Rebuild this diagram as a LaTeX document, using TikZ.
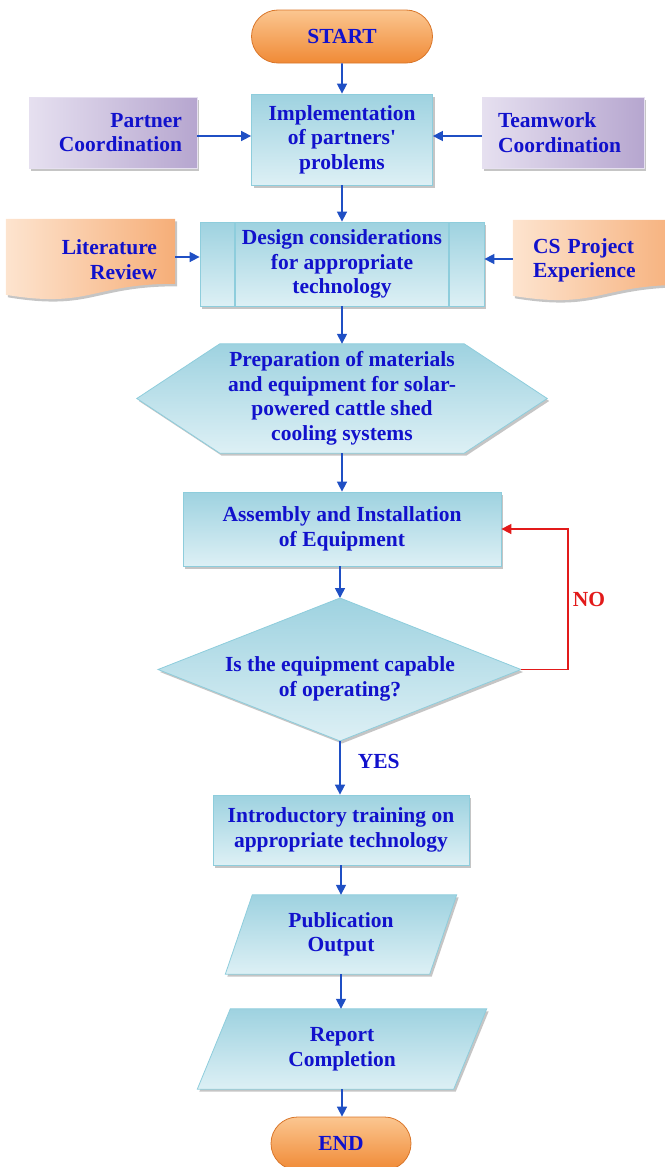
\documentclass[tikz,border=0pt]{standalone}
\usepackage{fontspec}
\setmainfont{Liberation Serif}
\usetikzlibrary{
  arrows.meta,
  backgrounds,
  calc,
  positioning,
  shapes.misc,
  shadows
}
\definecolor{LabelBlue}{HTML}{1111CC}
\definecolor{ArrowBlue}{HTML}{1F4FC4}
\definecolor{AlarmRed}{HTML}{E21A1A}
\definecolor{CyanDeep}{HTML}{9ED2E0}
\definecolor{CyanLight}{HTML}{DDF0F5}
\definecolor{CyanEdge}{HTML}{8ECDDC}
\definecolor{OrangeLight}{HTML}{FBC690}
\definecolor{OrangeDeep}{HTML}{F08A36}
\definecolor{OrangeEdge}{HTML}{D9762A}
\definecolor{PurpleLight}{HTML}{E6E0F0}
\definecolor{PurpleDeep}{HTML}{B6A6CF}
\definecolor{PeachLight}{HTML}{FDE4CF}
\definecolor{PeachDeep}{HTML}{F6AE78}
\definecolor{ShadowGray}{HTML}{8C8C8C}
\newcommand{\flowfont}{\bfseries\fontsize{21.5}{24.5}\selectfont}
\tikzset{
  % Global typography and shared shadow.
  every node/.style={font=\flowfont, text=LabelBlue},
  soft shadow/.style={
    drop shadow={shadow xshift=2pt, shadow yshift=-2.5pt, fill=ShadowGray}
  },
  terminal/.style={
    rounded rectangle,
    draw=OrangeEdge,
    line width=0.8pt,
    top color=OrangeLight,
    bottom color=OrangeDeep,
    minimum height=53pt,
    inner sep=0pt
  },
  flow box/.style={
    rectangle,
    draw=CyanEdge,
    line width=0.8pt,
    top color=CyanDeep,
    bottom color=CyanLight,
    soft shadow,
    align=center,
    inner sep=0pt
  },
  side box/.style={
    rectangle,
    draw=PurpleLight,
    line width=0.8pt,
    left color=PurpleLight,
    right color=PurpleDeep,
    soft shadow,
    minimum height=71pt,
    inner ysep=0pt
  },
  % Text holders for outlines drawn on the background layer.
  shape text/.style={
    rectangle,
    align=center,
    inner sep=0pt
  },
  doc text/.style={
    rectangle,
    minimum width=151pt,
    minimum height=81pt,
    inner ysep=0pt
  },
  shape fill/.style={
    draw=CyanEdge,
    line width=0.8pt,
    top color=CyanDeep,
    bottom color=CyanLight,
    soft shadow
  },
  doc fill/.style={
    left color=PeachLight,
    right color=PeachDeep,
    soft shadow
  },
  flow/.style={
    -{Triangle[length=10pt,width=10pt]},
    draw=ArrowBlue,
    line width=1.6pt
  },
  no flow/.style={
    flow,
    draw=AlarmRed
  },
  answer label/.style={
    inner sep=0pt
  }
}

\begin{document}
\begin{tikzpicture}[x=1pt, y=-1pt]

\useasboundingbox (0,0) rectangle (664,1167);

% ---------------------------------------------------------------------------
% Start and the two coordination inputs
% ---------------------------------------------------------------------------
\node[terminal, minimum width=181pt] (start) at (342,36.5) {START};

\node[flow box, minimum width=181pt, minimum height=91pt] (implement) at (342,139.5)
  {Implementation\\of partners\textquotesingle\\problems};

\node[side box, minimum width=168pt, text width=138pt, inner xsep=15pt, align=right]
  (partnerCoord) at (113,132.5) {Partner\\Coordination};

\node[side box, minimum width=162pt, text width=130pt, inner xsep=16pt, align=left]
  (teamCoord) at (563,132.5) {Teamwork\\Coordination};

\draw[flow] (start) -- (implement);
\draw[flow] ([yshift=-3.5pt]partnerCoord.east) -- ([yshift=-3.5pt]partnerCoord.east -| implement.west);
\draw[flow] ([yshift=-3.5pt]teamCoord.west) -- ([yshift=-3.5pt]teamCoord.west -| implement.east);

% ---------------------------------------------------------------------------
% Design considerations with its two document inputs
% ---------------------------------------------------------------------------
\node[flow box, minimum width=284pt, minimum height=84pt,
  path picture={
    \draw[CyanEdge, line width=1.2pt]
      ([xshift=35pt]path picture bounding box.north west) --
      ([xshift=35pt]path picture bounding box.south west);
    \draw[CyanEdge, line width=1.2pt]
      ([xshift=-35pt]path picture bounding box.north east) --
      ([xshift=-35pt]path picture bounding box.south east);
  }] (design) at (342,264)
  {Design considerations\\for appropriate\\technology};

\node[doc text, text width=133pt, inner xsep=18pt, align=right]
  (litReview) at (90.5,259.5) {Literature\\Review};

\node[doc text, text width=131pt, inner xsep=20pt, align=left]
  (csProject) at (598.5,260.5) {CS Project\\Experience};

\begin{scope}[on background layer]
  \foreach \doc in {litReview,csProject}{
    \path[doc fill] (\doc.north west) -- (\doc.north east) --
      ($(\doc.north east)+(0,65)$)
      .. controls ($(\doc.north)+(0,65)$) and ($(\doc.north)+(0,90)$) ..
      ($(\doc.north west)+(0,76)$) -- cycle;
  }
\end{scope}

\draw[flow] (implement) -- (design);
\draw[flow] ([yshift=2.5pt]litReview.east) -- ([yshift=2.5pt]litReview.east -| design.west);
\draw[flow] ([yshift=1.5pt]csProject.west) -- ([yshift=1.5pt]csProject.west -| design.east);

% ---------------------------------------------------------------------------
% Preparation, assembly and the capability check
% ---------------------------------------------------------------------------
\node[shape text, minimum width=410pt, minimum height=109pt] (prep) at (342,398.5)
  {Preparation of materials\\and equipment for solar-\\powered cattle shed\\cooling systems};

\node[flow box, minimum width=318pt, minimum height=74pt] (assembly) at (342,529)
  {Assembly and Installation\\of Equipment};

\node[shape text] (decision) at (340,679)
  {Is the equipment capable\\of operating?};

\coordinate (decTop) at (340,598);
\coordinate (decRight) at (521,669.5);
\coordinate (decBottom) at (340,741);
\coordinate (decLeft) at (158,669.5);

\begin{scope}[on background layer]
  \path[shape fill] (prep.west) -- ([xshift=83pt]prep.north west) --
    ([xshift=-83pt]prep.north east) -- (prep.east) --
    ([xshift=-83pt]prep.south east) -- ([xshift=83pt]prep.south west) -- cycle;
  \path[shape fill] (decTop) -- (decRight) -- (decBottom) -- (decLeft) -- cycle;
\end{scope}

\draw[flow] (design) -- (prep);
\draw[flow] (prep) -- (assembly);
\draw[flow] (assembly.south -| decTop) -- (decTop);
\draw[no flow] (decRight) -- ++(47,0)
  |- node[pos=0.25, right=4pt, answer label, text=AlarmRed] {NO} (assembly.east);

% ---------------------------------------------------------------------------
% Training, outputs and end
% ---------------------------------------------------------------------------
\node[flow box, minimum width=256pt, minimum height=70pt] (training) at (341,830)
  {Introductory training on\\appropriate technology};

\node[shape text, minimum width=204pt, minimum height=79pt] (publication) at (341,934.5)
  {Publication\\Output};

\node[shape text, minimum width=256pt, minimum height=80pt] (report) at (342,1049)
  {Report\\Completion};

\node[terminal, minimum width=140pt] (finish) at (341,1143.5) {END};

\begin{scope}[on background layer]
  \path[shape fill] ([xshift=13.5pt]publication.north west) --
    ([xshift=13.5pt]publication.north east) --
    ([xshift=-13.5pt]publication.south east) --
    ([xshift=-13.5pt]publication.south west) -- cycle;
  \path[shape fill] ([xshift=16.5pt]report.north west) --
    ([xshift=16.5pt]report.north east) --
    ([xshift=-16.5pt]report.south east) --
    ([xshift=-16.5pt]report.south west) -- cycle;
\end{scope}

\draw[flow] (decBottom) --
  node[pos=0.39, right=17pt, answer label] {YES}
  (decBottom |- training.north);
\draw[flow] (training.south) -- (training.south |- publication.north);
\draw[flow] (publication.south) -- (publication.south |- report.north);
\draw[flow] (report.south) -- (report.south |- finish.north);

\end{tikzpicture}
\end{document}
